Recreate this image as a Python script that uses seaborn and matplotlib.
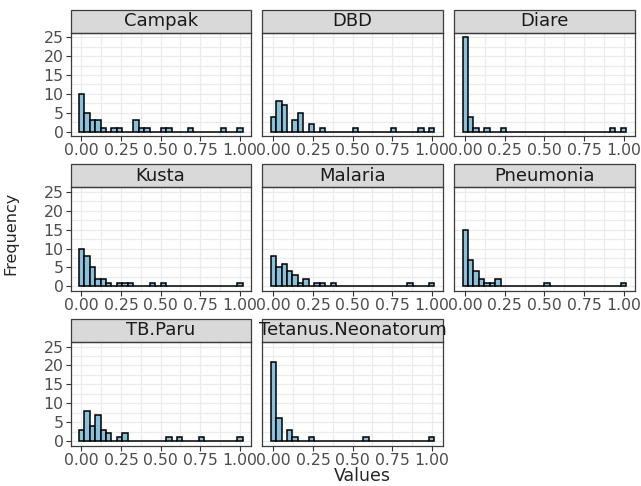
import pandas as pd
import numpy as np
import matplotlib.pyplot as plt
import seaborn as sns
from matplotlib.patches import Rectangle

##### DATA (bin counts, 30 bins centred on k/29) ##################################
diseases = ["Campak", "DBD", "Diare", "Kusta", "Malaria", "Pneumonia",
            "TB.Paru", "Tetanus.Neonatorum"]

campak = {0: 10, 1: 5, 2: 3, 3: 3, 4: 1, 6: 1, 7: 1, 10: 3, 11: 1, 12: 1,
          15: 1, 16: 1, 20: 1, 26: 1, 29: 1}
dbd = {0: 4, 1: 8, 2: 7, 4: 3, 5: 5, 7: 2, 9: 1, 15: 1, 22: 1, 27: 1, 29: 1}
diare = {0: 25, 1: 4, 2: 1, 4: 1, 7: 1, 27: 1, 29: 1}
kusta = {0: 10, 1: 8, 2: 5, 3: 2, 4: 2, 5: 1, 7: 1, 8: 1, 9: 1, 13: 1, 15: 1, 29: 1}
malaria = {0: 8, 1: 5, 2: 6, 3: 4, 4: 3, 5: 1, 6: 2, 8: 1, 9: 1, 11: 1, 25: 1, 29: 1}
pneumonia = {0: 15, 1: 7, 2: 4, 3: 2, 4: 1, 5: 1, 6: 2, 15: 1, 29: 1}
tb_paru = {0: 3, 1: 8, 2: 4, 3: 7, 4: 3, 5: 2, 7: 1, 8: 2, 16: 1, 18: 1, 22: 1, 29: 1}
tetanus = {0: 21, 1: 6, 3: 3, 4: 1, 7: 1, 17: 1, 29: 1}

counts = [campak, dbd, diare, kusta, malaria, pneumonia, tb_paru, tetanus]

N_BINS = 30
largura = 1 / (N_BINS - 1)
centros = np.arange(N_BINS) * largura
x_ini, x_fim = -largura / 2, 1 + largura / 2

linhas = []
for nome, c in zip(diseases, counts):
    for k in range(N_BINS):
        linhas.append({"disease": nome, "center": centros[k], "count": c.get(k, 0)})
df = pd.DataFrame(linhas)

##### PLOT ########################################################################
sns.set_theme(style="white")
plt.rcParams["font.family"] = ["DejaVu Sans"]

g = sns.FacetGrid(df, col="disease", col_wrap=3, col_order=diseases,
                  sharex=True, sharey=True, height=1.5, aspect=1.2)
g.map_dataframe(sns.histplot, x="center", weights="count", bins=N_BINS,
                binrange=(x_ini, x_fim),
                color="#87C1DD", edgecolor="black", alpha=1, linewidth=1.1)
g.figure.set_size_inches(6.41, 4.86)
g.figure.subplots_adjust(left=0.110, right=0.990, top=0.933, bottom=0.083,
                         wspace=0.065, hspace=0.49)

span = x_fim - x_ini
for i, (ax, nome) in enumerate(zip(g.axes.flat, diseases)):
    ax.set_xlim(x_ini - 0.05 * span, x_fim + 0.05 * span)
    ax.set_ylim(-1.25, 26.25)
    ax.set_xticks([0, 0.25, 0.5, 0.75, 1.0])
    ax.set_xticklabels(["0.00", "0.25", "0.50", "0.75", "1.00"])
    ax.set_xticks([0.125, 0.375, 0.625, 0.875], minor=True)
    ax.set_yticks([0, 5, 10, 15, 20, 25])
    ax.set_yticks([2.5, 7.5, 12.5, 17.5, 22.5], minor=True)
    ax.grid(True, which="both", color="#EBEBEB", linewidth=0.9)
    ax.set_axisbelow(True)
    for s in ax.spines.values():
        s.set_visible(True)
        s.set_color("#3C3C3C")
        s.set_linewidth(0.9)
    ax.tick_params(axis="both", which="major", direction="out", length=3.5,
                   width=0.8, color="#333333", labelsize=11.3, labelcolor="#4D4D4D",
                   pad=1.5, bottom=True, labelbottom=True)
    ax.tick_params(axis="both", which="minor", length=0)
    if i % 3 != 0:
        ax.tick_params(axis="y", left=False, labelleft=False)
    else:
        ax.tick_params(axis="y", left=True, labelleft=True)
    ax.set_title("")
    ax.set_xlabel("")
    ax.set_ylabel("")
    # faixa do título (strip)
    alto = 0.22
    faixa = Rectangle((0, 1), 1, alto, transform=ax.transAxes, clip_on=False,
                      facecolor="#D9D9D9", edgecolor="#3C3C3C", linewidth=0.9)
    ax.add_patch(faixa)
    t = ax.text(0.5, 1 + alto / 2, nome, transform=ax.transAxes, ha="center",
                va="center", fontsize=13, color="#1A1A1A")
    t.set_clip_path(faixa)

g.figure.supxlabel("Values", x=0.565, y=0.003, fontsize=12.5)
g.figure.supylabel("Frequency", x=0.006, y=0.52, fontsize=11.5)

plt.savefig("out.png", dpi=100)
